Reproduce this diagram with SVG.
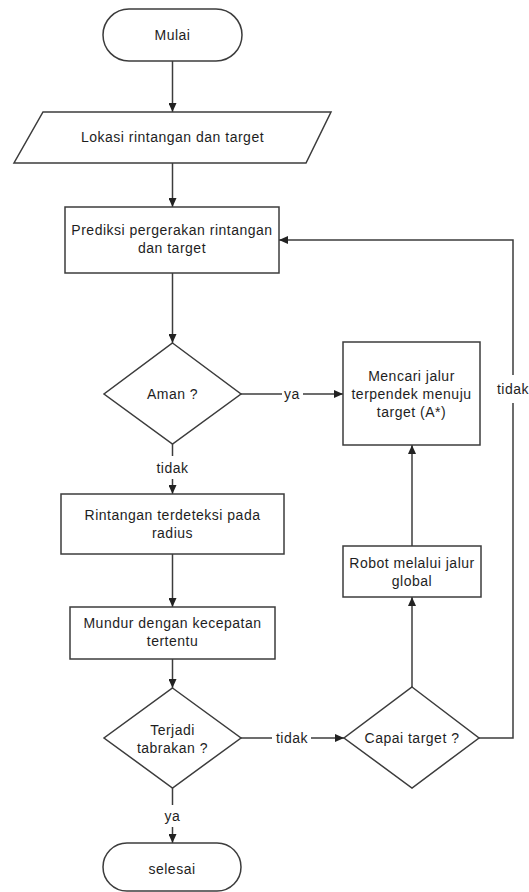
<svg xmlns="http://www.w3.org/2000/svg" width="529" height="892" viewBox="0 0 529 892">
<style>
.shape{fill:#fff;stroke:#3c3c3c;stroke-width:1.5}
.conn{fill:none;stroke:#3c3c3c;stroke-width:1.5}
text{font-family:"Liberation Sans",Arial,sans-serif;font-size:14px;letter-spacing:0.5px;fill:#1e1e1e;text-anchor:middle;dominant-baseline:central}
</style>
<defs>
<marker id="arr" viewBox="0 0 9 8" markerWidth="9" markerHeight="8" refX="9" refY="4" orient="auto" markerUnits="userSpaceOnUse">
<path d="M0,0 L9,4 L0,8 z" fill="#222"/>
</marker>
</defs>
<rect width="529" height="892" fill="#fff"/>
<g id="connectors">
<line class="conn" x1="172.5" y1="61" x2="172.5" y2="112" marker-end="url(#arr)"/>
<line class="conn" x1="172.5" y1="163" x2="172.5" y2="207" marker-end="url(#arr)"/>
<line class="conn" x1="172.5" y1="273" x2="172.5" y2="343" marker-end="url(#arr)"/>
<line class="conn" x1="241" y1="394" x2="282" y2="394"/>
<line class="conn" x1="303" y1="394" x2="343" y2="394" marker-end="url(#arr)"/>
<text x="292" y="394">ya</text>
<line class="conn" x1="172.5" y1="444" x2="172.5" y2="456"/>
<line class="conn" x1="172.5" y1="479" x2="172.5" y2="494" marker-end="url(#arr)"/>
<text x="172.5" y="468">tidak</text>
<line class="conn" x1="172.5" y1="554" x2="172.5" y2="607" marker-end="url(#arr)"/>
<line class="conn" x1="172.5" y1="659" x2="172.5" y2="688" marker-end="url(#arr)"/>
<line class="conn" x1="241" y1="738" x2="272" y2="738"/>
<line class="conn" x1="311" y1="738" x2="344" y2="738" marker-end="url(#arr)"/>
<text x="292" y="738">tidak</text>
<line class="conn" x1="412" y1="687" x2="412" y2="597" marker-end="url(#arr)"/>
<line class="conn" x1="412" y1="546" x2="412" y2="445" marker-end="url(#arr)"/>
<polyline class="conn" points="479,738 513,738 513,403"/>
<polyline class="conn" points="513,375 513,240 279,240" marker-end="url(#arr)"/>
<text x="513" y="389">tidak</text>
<line class="conn" x1="172.5" y1="788" x2="172.5" y2="805"/>
<line class="conn" x1="172.5" y1="827" x2="172.5" y2="843" marker-end="url(#arr)"/>
<text x="172.5" y="816">ya</text>
</g>
<g id="mulai">
<rect class="shape" x="103" y="9" width="139" height="52" rx="26" ry="26"/>
<text x="172.5" y="35">Mulai</text>
</g>
<g id="lokasi">
<polygon class="shape" points="43,112 331,112 306,163 14,163"/>
<text x="172.5" y="137">Lokasi rintangan dan target</text>
</g>
<g id="prediksi">
<rect class="shape" x="65" y="207" width="214" height="66"/>
<text x="172" y="230">Prediksi pergerakan rintangan</text>
<text x="172" y="248">dan target</text>
</g>
<g id="aman">
<polygon class="shape" points="172.5,343 241,394 172.5,444 104,394"/>
<text x="172.5" y="394">Aman ?</text>
</g>
<g id="mencari">
<rect class="shape" x="343" y="342" width="137" height="103"/>
<text x="411.5" y="376">Mencari jalur</text>
<text x="411.5" y="394">terpendek menuju</text>
<text x="411.5" y="412">target (A*)</text>
</g>
<g id="rintangan">
<rect class="shape" x="61" y="494" width="223" height="60"/>
<text x="172.5" y="515">Rintangan terdeteksi pada</text>
<text x="172.5" y="533">radius</text>
</g>
<g id="mundur">
<rect class="shape" x="70" y="607" width="205" height="52"/>
<text x="172.5" y="623">Mundur dengan kecepatan</text>
<text x="172.5" y="641">tertentu</text>
</g>
<g id="robot">
<rect class="shape" x="343" y="546" width="138" height="51"/>
<text x="412" y="563">Robot melalui jalur</text>
<text x="412" y="581">global</text>
</g>
<g id="terjadi">
<polygon class="shape" points="172.5,688 241,738 172.5,788 104,738"/>
<text x="172.5" y="730">Terjadi</text>
<text x="172.5" y="748">tabrakan ?</text>
</g>
<g id="capai">
<polygon class="shape" points="412,687 479,738 412,788 344,738"/>
<text x="412" y="738">Capai target ?</text>
</g>
<g id="selesai">
<rect class="shape" x="103" y="843" width="138" height="48" rx="24" ry="24"/>
<text x="172" y="869">selesai</text>
</g>
</svg>
